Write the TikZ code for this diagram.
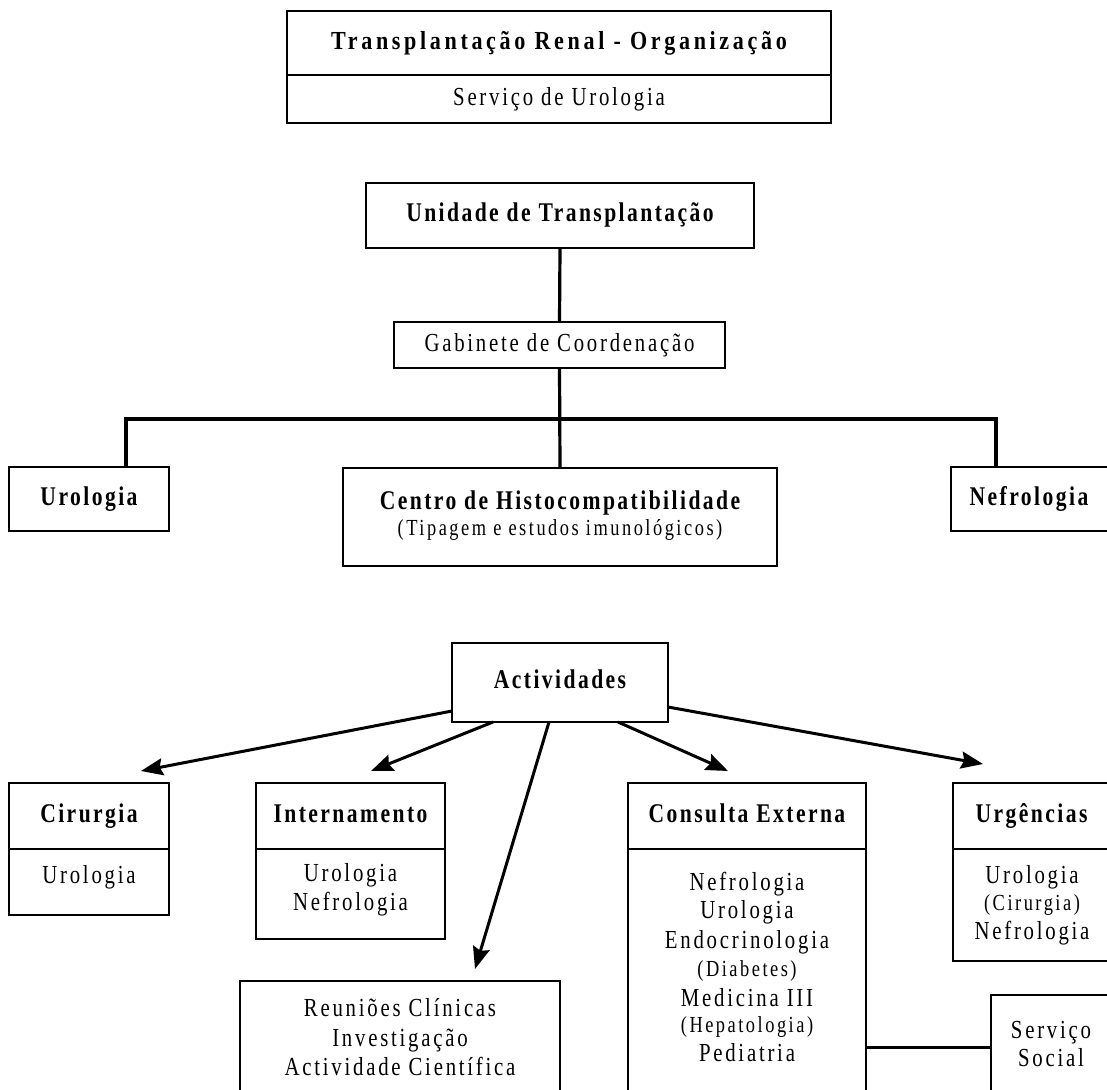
\documentclass[tikz,border=0pt]{standalone}
\usepackage{fontspec}
\setmainfont{Liberation Serif}
\newfontfamily\lsreg[LetterSpace=10.6,FakeStretch=0.8]{Liberation Serif}
\newfontfamily\lsbold[LetterSpace=9,FakeStretch=0.8]{Liberation Serif}
\newfontfamily\lssmall[LetterSpace=10.9,FakeStretch=0.8]{Liberation Serif}
\newfontfamily\lstitle[LetterSpace=14,FakeStretch=0.85]{Liberation Serif}
\usetikzlibrary{arrows.meta,calc}
\newcommand\fbold{\lsbold\bfseries\fontsize{27}{31}\selectfont}
\newcommand\freg{\lsreg\fontsize{26}{30}\selectfont}
\newcommand\fsmall{\lssmall\fontsize{23}{27}\selectfont}
\newcommand\ftitle{\lstitle\bfseries\fontsize{26}{30}\selectfont}
\begin{document}
\begin{tikzpicture}[x=1pt,y=-1pt,
  box/.style={draw=black, line width=1.5pt, inner sep=0pt, outer sep=0pt},
  divline/.style={line width=1.5pt},
  txt/.style={inner sep=0pt, text height=0.68em, text depth=0.2em, anchor=center, yshift=-4pt},
  bt/.style={txt, font=\fbold},
  rt/.style={txt, font=\freg},
  st/.style={txt, font=\fsmall},
  orgline/.style={line width=3.2pt},
  arr/.style={line width=3pt, -{Stealth[length=22pt,width=17pt,inset=3pt]}}
]
\useasboundingbox (0,0) rectangle (1107,1089);

% title box
\node[box, minimum width=544pt, minimum height=112pt] (top) at (559,67) {};
\draw[divline] (287,75) -- (831,75);
\node[txt, font=\ftitle] (ttl) at (559,43) {Transplantação Renal - Organização};
\node[rt] (sub) at (559,99) {Serviço de Urologia};

% organisation
\node[box, minimum width=388pt, minimum height=65pt] (unid) at (560,215.5) {};
\node[bt] (unidt) at (560,215) {Unidade de Transplantação};
\node[box, minimum width=331pt, minimum height=46pt] (gab) at (559.5,345) {};
\node[rt] (gabt) at (559.5,345) {Gabinete de Coordenação};
\node[box, minimum width=160pt, minimum height=64pt] (uro) at (89,499) {};
\node[bt] (urot) at (89,499) {Urologia};
\node[box, minimum width=434pt, minimum height=98pt] (cent) at (560,517) {};
\node[bt] (centt) at (560,503) {Centro de Histocompatibilidade};
\node[st] (cents) at (560,529) {(Tipagem e estudos imunológicos)};
\node[box, minimum width=157pt, minimum height=64pt] (nef) at (1029.5,499) {};
\node[bt] (neft) at (1029,499) {Nefrologia};

\coordinate (hl) at (126,419);
\coordinate (hr) at (996,419);
\draw[orgline] (unid.south) -- (gab.north);
\draw[orgline] (gab.south) -- (cent.north);
\draw[orgline] (uro.north -| hl) -- (hl) -- (hr) -- (nef.north -| hr);

% activities
\node[box, minimum width=216pt, minimum height=79pt] (act) at (560,682.5) {};
\node[bt] (actt) at (560,682) {Actividades};

\node[box, minimum width=160pt, minimum height=132pt] (cir) at (89,849) {};
\draw[divline] (9,849) -- (169,849);
\node[bt] (cirt) at (89,816) {Cirurgia};
\node[rt] (cir1) at (89,877) {Urologia};

\node[box, minimum width=189pt, minimum height=156pt] (int) at (350.5,861) {};
\draw[divline] (256,849) -- (445,849);
\node[bt] (intt) at (350.5,816) {Internamento};
\node[rt] (int1) at (350.5,875) {Urologia};
\node[rt] (int2) at (350.5,904) {Nefrologia};

\node[box, minimum width=320pt, minimum height=119pt] (reu) at (400,1040.5) {};
\node[rt] (reu1) at (400,1010) {Reuniões Clínicas};
\node[rt] (reu2) at (400,1040) {Investigação};
\node[rt] (reu3) at (400,1069) {Actividade Científica};

\node[box, minimum width=238pt, minimum height=317pt] (cons) at (747,941.5) {};
\draw[divline] (628,849) -- (866,849);
\node[bt] (const) at (747,816) {Consulta Externa};
\node[rt] (con1) at (747,884) {Nefrologia};
\node[rt] (con2) at (747,912) {Urologia};
\node[rt] (con3) at (747,942) {Endocrinologia};
\node[st] (con4) at (747,970) {(Diabetes)};
\node[rt] (con5) at (747,1000) {Medicina III};
\node[st] (con6) at (747,1026) {(Hepatologia)};
\node[rt] (con7) at (747,1055) {Pediatria};

\node[box, minimum width=157pt, minimum height=178pt] (urg) at (1031.5,872) {};
\draw[divline] (953,849) -- (1110,849);
\node[bt] (urgt) at (1031.5,816) {Urgências};
\node[rt] (urg1) at (1032,877) {Urologia};
\node[st] (urg2) at (1032,904) {(Cirurgia)};
\node[rt] (urg3) at (1032,933) {Nefrologia};

\node[box, minimum width=120pt, minimum height=105pt] (serv) at (1051,1047.5) {};
\node[rt] (serv1) at (1051,1032) {Serviço};
\node[rt] (serv2) at (1051,1060) {Social};

\draw[orgline] (cons.east |- serv.west) -- (serv.west);

\coordinate (tCir) at (141,771);
\coordinate (tInt) at (371,771);
\coordinate (tReu) at (475,969);
\coordinate (tCon) at (728,771);
\coordinate (tUrg) at (983,764);
\draw[arr] ($(act.south west)+(0,-11)$) -- (tCir);
\draw[arr] ($(act.south west)+(41,0)$) -- (tInt);
\draw[arr] ($(act.south west)+(97,0)$) -- (tReu);
\draw[arr] ($(act.south west)+(166,0)$) -- (tCon);
\draw[arr] ($(act.south east)+(0,-15)$) -- (tUrg);
\end{tikzpicture}
\end{document}
